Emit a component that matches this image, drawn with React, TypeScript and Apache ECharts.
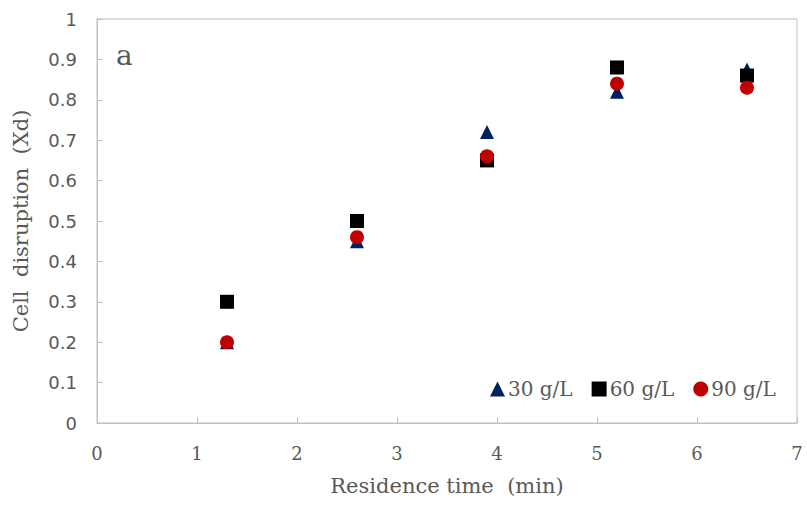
import React, { useEffect, useRef } from "react";
import * as echarts from "echarts";

const residenceTime = [1.3, 2.6, 3.9, 5.2, 6.5];
const s30 = [0.2, 0.45, 0.72, 0.82, 0.875];
const s60 = [0.3, 0.5, 0.65, 0.88, 0.86];
const s90 = [0.2, 0.46, 0.66, 0.84, 0.83];
const seriesNames = ["30 g/L", "60 g/L", "90 g/L"];

const pair = (ys: number[]) => residenceTime.map((x, i) => [x, ys[i]]);

export default function App() {
  const ref = useRef<HTMLDivElement>(null);
  useEffect(() => {
    document.body.style.margin = "0";
    const chart = echarts.init(ref.current!, null, { renderer: "svg" });
    const gray = "#595959";
    const serif = "DejaVu Serif";
    chart.setOption({
      animation: false,
      backgroundColor: "#ffffff",
      grid: { left: 97, right: 10, top: 19, bottom: 82, show: true, borderColor: "#bfbfbf", borderWidth: 1 },
      xAxis: {
        type: "value",
        min: 0,
        max: 7,
        interval: 1,
        name: "Residence time  (min)",
        nameLocation: "middle",
        nameGap: 52,
        nameTextStyle: { color: gray, fontFamily: serif, fontSize: 21 },
        axisLine: { lineStyle: { color: "#bfbfbf" } },
        axisTick: { inside: true, length: 6, lineStyle: { color: "#bfbfbf" } },
        axisLabel: { color: gray, fontFamily: serif, fontSize: 18, margin: 21 },
        splitLine: { show: false },
      },
      yAxis: {
        type: "value",
        min: 0,
        max: 1,
        interval: 0.1,
        name: "Cell  disruption  (Xd)",
        nameLocation: "middle",
        nameGap: 66,
        nameTextStyle: { color: gray, fontFamily: serif, fontSize: 21 },
        axisLine: { lineStyle: { color: "#bfbfbf" } },
        axisTick: { inside: true, length: 6, lineStyle: { color: "#bfbfbf" } },
        axisLabel: { color: gray, fontFamily: "DejaVu Sans", fontSize: 18, margin: 20 },
        splitLine: { show: false },
      },
      legend: {
        left: 485,
        top: 374,
        itemWidth: 15,
        itemHeight: 15,
        itemGap: 19,
        textStyle: { color: gray, fontFamily: serif, fontSize: 20, padding: [0, 0, 0, -2] },
        data: [
          { name: seriesNames[0], icon: "triangle" },
          { name: seriesNames[1], icon: "rect" },
          { name: seriesNames[2], icon: "circle" },
        ],
      },
      graphic: [
        {
          type: "text",
          left: 116,
          top: 41,
          style: { text: "a", fill: gray, fontFamily: serif, fontSize: 28 },
        },
      ],
      series: [
        {
          name: seriesNames[0],
          type: "scatter",
          symbol: "triangle",
          symbolSize: 14,
          itemStyle: { color: "#002060", opacity: 1 },
          data: pair(s30),
        },
        {
          name: seriesNames[1],
          type: "scatter",
          symbol: "rect",
          symbolSize: 14,
          itemStyle: { color: "#000000", opacity: 1 },
          data: pair(s60),
        },
        {
          name: seriesNames[2],
          type: "scatter",
          symbol: "circle",
          symbolSize: 14,
          itemStyle: { color: "#c00000", opacity: 1 },
          data: pair(s90),
        },
      ],
    });
    return () => chart.dispose();
  }, []);
  return <div ref={ref} style={{ position: "absolute", left: 0, top: 0, width: 807, height: 505 }} />;
}
